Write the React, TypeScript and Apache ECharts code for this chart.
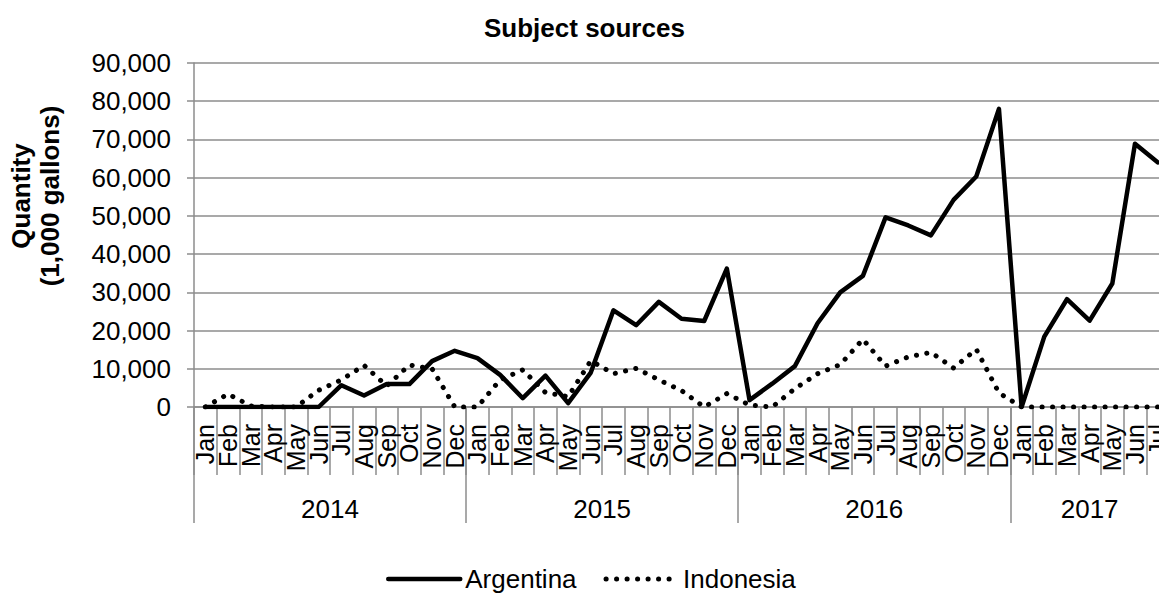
import React, { useEffect, useRef } from "react";
import * as echarts from "echarts";

// Monthly quantities, Jan 2014 – Jul 2017 (1,000 gallons)
const years = ["2014", "2015", "2016", "2017"];
const monthsInYear = [12, 12, 12, 7];
const monthNames = ["Jan", "Feb", "Mar", "Apr", "May", "Jun", "Jul", "Aug", "Sep", "Oct", "Nov", "Dec"];

const argentina = [
  0, 0, 0, 0, 0, 0, 5700, 3000, 6000, 6000, 12000, 14700,
  12800, 8400, 2300, 8200, 1000, 9000, 25300, 21400, 27500, 23100, 22500, 36200,
  1800, 6100, 10700, 21900, 30000, 34300, 49600, 47500, 44900, 54200, 60300, 78000,
  0, 18400, 28200, 22600, 32300, 68900, 64000,
];

const indonesia = [
  0, 3400, 300, 0, 0, 4400, 7100, 10900, 5500, 11000, 10000, 0,
  0, 7100, 9700, 3800, 2700, 12100, 8700, 10100, 7100, 4300, 0, 3500,
  500, 0, 4800, 8700, 11100, 17700, 10700, 13100, 14300, 10200, 15100, 3700,
  0, 0, 0, 0, 0, 0, 0,
];

const yTicks = [0, 10000, 20000, 30000, 40000, 50000, 60000, 70000, 80000, 90000];

const FONT = "'Liberation Sans', Arial, Helvetica, sans-serif";
const GRID_GRAY = "#8c8c8c";

const solidLine = { color: "#000", width: 4.5, join: "round" as const, cap: "round" as const };
const dottedLine = { color: "#000", width: 5, type: [0.1, 10.4], cap: "round" as const };

export default function App() {
  const ref = useRef<HTMLDivElement>(null);

  useEffect(() => {
    if (!ref.current) return;
    const chart = echarts.init(ref.current, undefined, { renderer: "svg" });

    // month categories and year spans
    const categories: string[] = [];
    monthsInYear.forEach((n) => {
      for (let i = 0; i < n; i++) categories.push(monthNames[i]);
    });
    const yearStarts: number[] = [];
    const yearCenters: number[] = [];
    let acc = 0;
    monthsInYear.forEach((n) => {
      yearStarts.push(acc);
      yearCenters.push(acc + n / 2);
      acc += n;
    });
    const total = acc;

    chart.setOption({
      animation: false,
      backgroundColor: "#ffffff",
      textStyle: { fontFamily: FONT, color: "#000" },
      title: {
        text: "Subject sources",
        left: 479,
        top: 10,
        textStyle: { fontFamily: FONT, fontSize: 26, fontWeight: "bold", color: "#000" },
      },
      legend: {
        left: 381,
        top: 561,
        itemWidth: 72,
        itemHeight: 14,
        itemGap: 27,
        itemStyle: { opacity: 0 },
        textStyle: { fontFamily: FONT, fontSize: 26, color: "#000" },
        data: [
          { name: "Argentina", lineStyle: solidLine },
          { name: "Indonesia", lineStyle: dottedLine },
        ],
      },
      // the plot runs a little past the right edge of the canvas
      grid: {
        left: 194,
        top: 63,
        width: 975,
        height: 344,
        containLabel: false,
        outerBoundsMode: "none",
      },
      xAxis: [
        {
          type: "category",
          data: categories,
          boundaryGap: true,
          axisLine: { show: true, lineStyle: { color: GRID_GRAY, width: 1.5 } },
          axisTick: { show: true, length: 68, interval: 0, lineStyle: { color: GRID_GRAY, width: 1.5 } },
          axisLabel: {
            interval: 0,
            rotate: 90,
            margin: 17,
            fontSize: 25,
            fontFamily: FONT,
            color: "#000",
          },
          splitLine: { show: false },
        },
        {
          type: "value",
          min: 0,
          max: total,
          position: "bottom",
          axisLine: { show: false },
          axisTick: {
            show: true,
            customValues: yearStarts,
            length: 116,
            lineStyle: { color: GRID_GRAY, width: 1.5 },
          },
          axisLabel: {
            show: true,
            customValues: yearCenters,
            margin: 89,
            fontSize: 26,
            fontFamily: FONT,
            color: "#000",
            formatter: (v: number) => {
              const idx = yearCenters.findIndex((c) => Math.abs(c - v) < 1e-6);
              return idx >= 0 ? years[idx] : "";
            },
          },
          splitLine: { show: false },
        },
      ],
      yAxis: {
        type: "value",
        min: yTicks[0],
        max: yTicks[yTicks.length - 1],
        interval: yTicks[1] - yTicks[0],
        axisLine: { show: true, lineStyle: { color: GRID_GRAY, width: 1.5 } },
        axisTick: { show: true, length: 7, lineStyle: { color: GRID_GRAY, width: 1.5 } },
        axisLabel: {
          margin: 23,
          fontSize: 26,
          fontFamily: FONT,
          color: "#000",
          formatter: (v: number) => v.toLocaleString("en-US"),
        },
        splitLine: { show: true, lineStyle: { color: GRID_GRAY, width: 1.5 } },
      },
      graphic: [
        {
          type: "text",
          x: 35,
          y: 196,
          rotation: Math.PI / 2,
          style: {
            text: "Quantity\n(1,000 gallons)",
            fontFamily: FONT,
            fontSize: 26,
            fontWeight: "bold",
            fill: "#000",
            align: "center",
            verticalAlign: "middle",
            lineHeight: 29,
          },
        },
      ],
      series: [
        {
          name: "Argentina",
          type: "line",
          xAxisIndex: 0,
          data: argentina,
          symbol: "none",
          z: 3,
          lineStyle: solidLine,
          itemStyle: { color: "#000" },
        },
        {
          name: "Indonesia",
          type: "line",
          xAxisIndex: 0,
          data: indonesia,
          symbol: "none",
          z: 2,
          lineStyle: dottedLine,
          itemStyle: { color: "#000" },
        },
      ],
    });

    return () => chart.dispose();
  }, []);

  return (
    <div
      ref={ref}
      style={{ position: "absolute", left: 0, top: 0, width: 1159, height: 594 }}
    />
  );
}
